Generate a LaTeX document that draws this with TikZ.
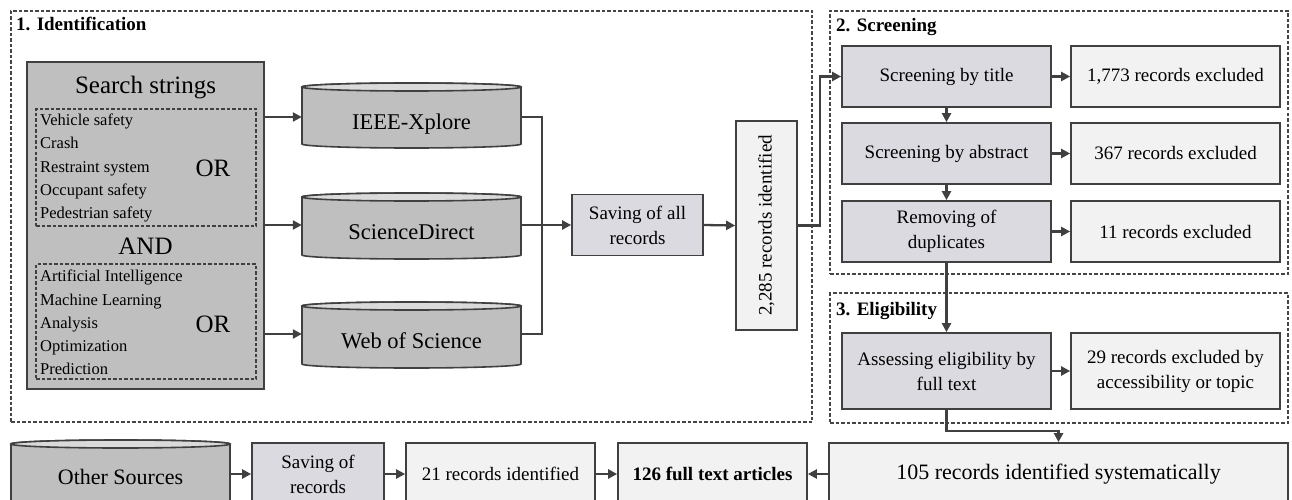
\documentclass[tikz,border=0pt]{standalone}
\usepackage{fontspec}
\setmainfont{Liberation Serif}
\usepackage{graphicx}
\usetikzlibrary{arrows.meta}
\definecolor{linecol}{HTML}{404040}
\definecolor{dashcol}{HTML}{454545}
\definecolor{darkfill}{HTML}{BFBFBF}
\definecolor{topfill}{HTML}{DADADA}
\definecolor{procfill}{HTML}{DBDAE0}
\definecolor{resfill}{HTML}{F2F2F2}
\newcommand\fsz[2]{\fontsize{#1}{#2}\selectfont}
\newcommand\drawcyl[4]{%
  \pgfmathsetmacro\cylrx{(#3-#1)/2}%
  \pgfmathsetmacro\cylcx{(#3+#1)/2}%
  \filldraw[cylbody] (#1,#2+4) -- (#1,#4-4) arc[start angle=180,end angle=0,x radius=\cylrx,y radius=4] -- (#3,#2+4) arc[start angle=0,end angle=-180,x radius=\cylrx,y radius=4] -- cycle;
  \filldraw[cyltop] (\cylcx,#2+4) ellipse[x radius=\cylrx,y radius=4];
}
\tikzset{
  every node/.style={font=\fsz{19}{25}},
  proc/.style={draw=linecol, line width=1.7pt, fill=procfill, align=center, inner sep=0pt, minimum width=209, minimum height=61},
  res/.style={draw=linecol, line width=1.7pt, fill=resfill, align=center, inner sep=0pt, minimum width=209, minimum height=61},
  phase/.style={draw=dashcol, line width=1.1pt, dash pattern=on 3.5pt off 2pt, inner sep=0pt},
  phlabel/.style={font=\fsz{19}{23}\bfseries, inner sep=0pt},
  searchbox/.style={draw=linecol, line width=1.7pt, fill=darkfill, inner sep=0pt},
  orbox/.style={draw=linecol, line width=1.1pt, dash pattern=on 3.5pt off 2pt, inner sep=0pt},
  listtxt/.style={font=\fsz{16.5}{23.2}, align=left, inner sep=0pt},
  bigtxt/.style={font=\fsz{25}{30}, inner sep=0pt},
  cylbody/.style={draw=linecol, line width=1.6pt, fill=darkfill},
  cyltop/.style={draw=linecol, line width=1.6pt, fill=topfill},
  cyltxt/.style={font=\fsz{22.5}{27}, inner sep=0pt, minimum width=219, minimum height=40},
  arr/.style={draw=linecol, line width=2.3pt, -{Triangle[length=9pt,width=9pt]}},
  ln/.style={draw=linecol, line width=2.3pt},
}
\begin{document}
\begin{tikzpicture}[x=1pt,y=-1pt]
\clip (0,0) rectangle (1292,500);
\useasboundingbox (0,0) rectangle (1292,500);
\fill[white] (0,0) rectangle (1292,500);

% phase frames
\node[phase, minimum width=801, minimum height=411] (ph1) at (411.5,216.5) {};
\node[phase, minimum width=458, minimum height=263] (ph2) at (1059,142.5) {};
\node[phase, minimum width=458, minimum height=130] (ph3) at (1059,358) {};
\node[phlabel, anchor=base west] (lab1) at (16,31) {1. Identification};
\node[phlabel, anchor=base west] (lab2) at (836,32) {2. Screening};
\node[phlabel, anchor=base west] (lab3) at (836,315) {3. Eligibility};

% search strings
\node[searchbox, minimum width=237, minimum height=327] (search) at (145.5,225.5) {};
\node[bigtxt] (sstr) at (145.5,88) {Search strings};
\node[orbox, minimum width=220, minimum height=117] (or1) at (146,167.5) {};
\node[listtxt, anchor=west] (terms1) at (40,168) {Vehicle safety\\Crash\\Restraint system\\Occupant safety\\Pedestrian safety};
\node[bigtxt] (op1) at (213,168) {OR};
\node[bigtxt] (and) at (145.5,246) {AND};
\node[orbox, minimum width=220, minimum height=115] (or2) at (146,321.5) {};
\node[listtxt, anchor=west] (terms2) at (40,322.5) {Artificial Intelligence\\Machine Learning\\Analysis\\Optimization\\Prediction};
\node[bigtxt] (op2) at (213,324) {OR};

% databases
\drawcyl{302}{83}{521}{148}
\node[cyltxt] (ieee) at (411.5,124) {IEEE-Xplore};
\drawcyl{302}{193}{521}{259}
\node[cyltxt] (sd) at (411.5,232) {ScienceDirect};
\drawcyl{302}{302}{521}{368}
\node[cyltxt] (wos) at (411.5,341) {Web of Science};
\coordinate (ieeein) at ([yshift=7pt]ieee.west);
\coordinate (sdin) at ([yshift=7pt]sd.west);
\coordinate (wosin) at ([yshift=7pt]wos.west);
\coordinate (ieeeout) at ([yshift=7pt]ieee.east);
\coordinate (sdout) at ([yshift=7pt]sd.east);
\coordinate (wosout) at ([yshift=7pt]wos.east);

\draw[arr] (search.east |- ieeein) -- (ieeein);
\draw[arr] (search.east |- sdin) -- (sdin);
\draw[arr] (search.east |- wosin) -- (wosin);

% saving and identified
\node[proc, minimum width=131, minimum height=61] (save) at (637.5,225) {Saving of all\\records};
\node[res, minimum width=61, minimum height=209] (found) at (766.5,225.5) {\rotatebox{90}{2,285 records identified}};
\coordinate (jn) at (542,225);
\draw[ln] (ieeeout) -| (jn);
\draw[ln] (wosout) -| (jn);
\draw[arr] (sdout) -- (save.west);
\draw[arr] (save.east) -- (found.west);

% screening
\node[proc] (title) at (946.5,76.5) {Screening by title};
\node[res] (ex1) at (1175.5,76.5) {1,773 records excluded};
\node[proc] (abs) at (946.5,153.5) {Screening by abstract};
\node[res] (ex2) at (1175.5,153.5) {367 records excluded};
\node[proc] (dup) at (946.5,231.5) {Removing of\\duplicates};
\node[res] (ex3) at (1175.5,231.5) {11 records excluded};
\coordinate (b1) at (820,225.5);
\draw[arr] (found.east) -- (b1) |- (title.west);
\draw[arr] (title.south) -- (abs.north);
\draw[arr] (abs.south) -- (dup.north);
\draw[arr] (title.east) -- (ex1.west);
\draw[arr] (abs.east) -- (ex2.west);
\draw[arr] (dup.east) -- (ex3.west);

% eligibility
\node[proc, minimum height=76] (elig) at (946.5,371) {Assessing eligibility by\\full text};
\node[res, minimum height=76] (ex4) at (1175.5,371) {29 records excluded by\\accessibility or topic};
\draw[arr] (dup.south) -- (elig.north);
\draw[arr] (elig.east) -- (ex4.west);

% bottom row
\drawcyl{11}{440}{230}{515}
\node[cyltxt, font=\fsz{22}{26}] (other) at (120.5,477) {Other Sources};
\node[proc, minimum width=132, minimum height=62] (savrec) at (318,474) {Saving of\\records};
\node[res, minimum width=189, minimum height=62] (r21) at (500.5,474) {21 records identified};
\node[res, minimum width=189, minimum height=62] (full) at (712.5,474) {\bfseries 126 full text articles};
\node[res, minimum width=459, minimum height=62, font=\fsz{22}{26}] (sys) at (1058.5,474) {105 records identified systematically};
\draw[arr] (other.east |- savrec.west) -- (savrec.west);
\draw[arr] (savrec.east) -- (r21.west);
\draw[arr] (r21.east) -- (full.west);
\draw[arr] (sys.west) -- (full.east);
\draw[arr] (elig.south) -- ++(0,21) -| (sys.north);
\end{tikzpicture}
\end{document}
